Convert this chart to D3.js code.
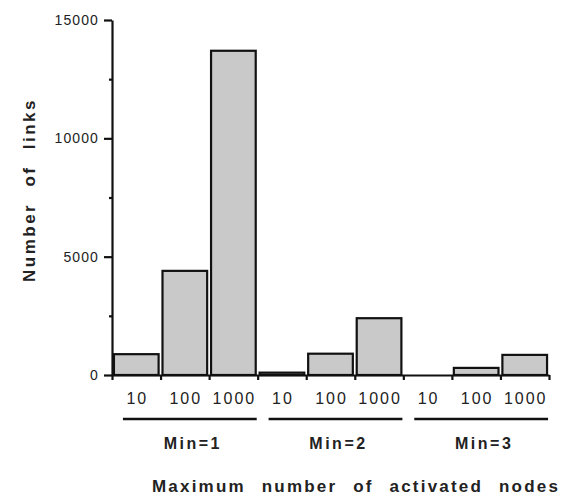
<!DOCTYPE html>
<html>
<head>
<meta charset="utf-8">
<script src="https://cdn.jsdelivr.net/npm/d3@7"></script>
<style>
  body { margin: 0; background: #fff; }
  svg { display: block; font-family: "Liberation Sans", Arial, sans-serif; }
  .axis path, .axis line { stroke: #111; stroke-width: 2.2; }
</style>
</head>
<body>
<svg width="569" height="497"></svg>
<script>
const svg = d3.select('svg');

// data
const groups = ['Min=1', 'Min=2', 'Min=3'];
const maxNodes = ['10', '100', '1000'];
const links = [
  [880, 4400, 13700],   // Min=1
  [100, 900, 2400],     // Min=2
  [0, 300, 850]         // Min=3
];
const yTicks = [0, 5000, 10000, 15000];
const yMinorTicks = [2500, 7500, 12500];

// flatten into one bar per (group, max nodes)
const data = [];
groups.forEach((g, gi) => {
  maxNodes.forEach((m, mi) => {
    data.push({ key: g + '_' + m, group: g, label: m, value: links[gi][mi] });
  });
});

const plotLeft = 112, plotRight = 549, plotTop = 20, plotBottom = 375;

const x = d3.scaleBand()
  .domain(data.map(d => d.key))
  .range([plotLeft, plotRight])
  .paddingInner(0.08)
  .paddingOuter(0.04);

const y = d3.scaleLinear()
  .domain([0, 15000])
  .range([plotBottom, plotTop]);

// bars
svg.selectAll('.bar')
  .data(data.filter(d => d.value > 0))
  .enter()
  .append('rect')
  .attr('class', 'bar')
  .attr('x', d => x(d.key))
  .attr('width', x.bandwidth())
  .attr('y', d => y(d.value))
  .attr('height', d => y(0) - y(d.value))
  .attr('fill', '#c9c9c9')
  .attr('stroke', '#111')
  .attr('stroke-width', 2.2);

// y axis, major and minor ticks
svg.append('g')
  .attr('class', 'axis')
  .attr('transform', `translate(${plotLeft},0)`)
  .call(d3.axisLeft(y).tickValues(yTicks).tickSize(8).tickSizeOuter(0).tickPadding(5).tickFormat(d3.format('d')))
  .call(g => g.selectAll('text')
    .attr('font-size', 14)
    .attr('fill', '#222')
    .attr('letter-spacing', 1.1));

svg.append('g')
  .attr('class', 'axis')
  .attr('transform', `translate(${plotLeft},0)`)
  .call(d3.axisLeft(y).tickValues(yMinorTicks).tickSize(3).tickFormat(''))
  .call(g => g.select('.domain').remove());

// x axis: ticks at the band boundaries
const xEdge = d3.scaleLinear().domain([0, data.length]).range([plotLeft, plotRight]);
svg.append('g')
  .attr('class', 'axis')
  .attr('transform', `translate(0,${plotBottom})`)
  .call(d3.axisBottom(xEdge).tickValues(d3.range(data.length + 1)).tickSize(5).tickSizeOuter(0).tickFormat(''));

// category labels
svg.selectAll('.cat')
  .data(data)
  .enter()
  .append('text')
  .attr('class', 'cat')
  .attr('x', d => x(d.key) + x.bandwidth() / 2 + 1)
  .attr('y', 404)
  .attr('text-anchor', 'middle')
  .attr('font-size', 16)
  .attr('letter-spacing', 2)
  .attr('fill', '#222')
  .text(d => d.label);

// group underlines and labels
const groupSpans = groups.map(g => {
  const keys = data.filter(d => d.group === g).map(d => d.key);
  return { group: g, x1: x(keys[0]) + 9, x2: x(keys[keys.length - 1]) + x.bandwidth() + 1 };
});

svg.selectAll('.gline')
  .data(groupSpans)
  .enter()
  .append('line')
  .attr('x1', d => d.x1)
  .attr('x2', d => d.x2)
  .attr('y1', 419)
  .attr('y2', 419)
  .attr('stroke', '#111')
  .attr('stroke-width', 2.5);

svg.selectAll('.glabel')
  .data(groupSpans)
  .enter()
  .append('text')
  .attr('x', d => (d.x1 + d.x2) / 2 + 3)
  .attr('y', 449)
  .attr('text-anchor', 'middle')
  .attr('font-size', 16)
  .attr('font-weight', 'bold')
  .attr('letter-spacing', 2.5)
  .attr('fill', '#222')
  .text(d => d.group);

// axis titles
svg.append('text')
  .attr('x', 152)
  .attr('y', 492)
  .attr('font-size', 17)
  .attr('font-weight', 'bold')
  .attr('letter-spacing', 2.2)
  .attr('word-spacing', 9)
  .attr('fill', '#222')
  .text('Maximum number of activated nodes');

svg.append('text')
  .attr('transform', 'translate(35,282) rotate(-90)')
  .attr('font-size', 17)
  .attr('font-weight', 'bold')
  .attr('letter-spacing', 2.5)
  .attr('word-spacing', 9)
  .attr('fill', '#222')
  .text('Number of links');
</script>
</body>
</html>
